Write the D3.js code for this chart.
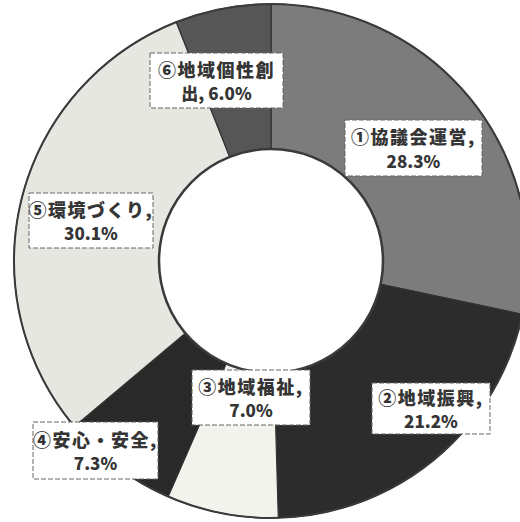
<!DOCTYPE html>
<html><head><meta charset="utf-8">
<script src="https://cdn.jsdelivr.net/npm/d3@7"></script>
<style>html,body{margin:0;padding:0;background:#fff;}svg{display:block;}</style>
</head><body>
<svg id="c" width="520" height="522"></svg>
<script>
// ---- data ----
const categories = ["①協議会運営", "②地域振興", "③地域福祉", "④安心・安全", "⑤環境づくり", "⑥地域個性創出"];
const values = [28.3, 21.2, 7.0, 7.3, 30.1, 6.0];
const colors = ["#7c7c7c", "#2c2c2c", "#f3f3ee", "#292929", "#e7e7e1", "#565656"];

// ---- layout (label boxes: x, y, w, h) ----
const boxes = [
  [345, 120, 137, 56],
  [372, 383, 118, 51],
  [192, 370, 118, 55],
  [33, 422, 125, 57],
  [29, 193, 124, 55],
  [150, 53, 133, 55]
];
const wrapAt = [null, null, null, null, null, 6];

const svg = d3.select("#c");
const cx = 271, cy = 261, rOuter = 257, rInner = 112;
const g = svg.append("g").attr("transform", `translate(${cx},${cy})`);

const pie = d3.pie().sort(null).value(d => d);
const arcs = pie(values);
const arc = d3.arc().innerRadius(rInner).outerRadius(rOuter);

g.selectAll("path.slice").data(arcs).join("path")
  .attr("class", "slice")
  .attr("d", arc)
  .attr("fill", (d, i) => colors[i])
  .attr("stroke", "#333")
  .attr("stroke-width", 1.2);

g.append("circle").attr("r", rOuter).attr("fill", "none").attr("stroke", "#3a3a3a").attr("stroke-width", 2);
g.append("circle").attr("r", rInner).attr("fill", "#fff").attr("stroke", "#3a3a3a").attr("stroke-width", 2.5);

// ---- labels ----
const lab = svg.append("g");
categories.forEach((name, i) => {
  const [x, y, w, h] = boxes[i];
  const val = values[i].toFixed(1) + "%";
  let lines;
  if (wrapAt[i]) {
    lines = [name.slice(0, wrapAt[i]), name.slice(wrapAt[i]) + ", " + val];
  } else {
    lines = [name + ",", val];
  }
  lab.append("rect").attr("x", x).attr("y", y).attr("width", w).attr("height", h)
    .attr("fill", "#fff").attr("stroke", "#666").attr("stroke-width", 1)
    .attr("stroke-dasharray", "5,2");
  lines.forEach((t, j) => {
    lab.append("text")
      .attr("x", x + w / 2)
      .attr("y", y + h / 2 + (j === 0 ? -12 : 12))
      .attr("text-anchor", "middle")
      .attr("dominant-baseline", "central")
      .attr("font-family", "'Noto Sans CJK JP', 'Noto Sans', sans-serif")
      .attr("font-weight", 900)
      .attr("font-size", j === 0 ? 18 : 17)
      .attr("letter-spacing", j === 0 ? 1.5 : 0)
      .attr("fill", "#353535")
      .text(t);
  });
});
</script>
</body></html>
